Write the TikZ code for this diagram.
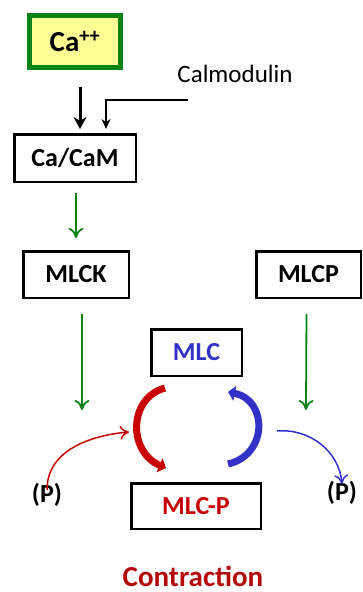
\documentclass[tikz,border=0pt]{standalone}
\usepackage{fontspec}
\setmainfont{Carlito}
\usetikzlibrary{arrows.meta}
\definecolor{darkgreen}{RGB}{10,130,20}
\definecolor{lightyellow}{RGB}{255,255,150}
\definecolor{mlcblue}{RGB}{50,50,200}
\definecolor{mlcred}{RGB}{200,0,0}
\definecolor{contred}{RGB}{180,10,10}
\tikzset{
    box/.style={draw=black, line width=2.5pt, inner sep=0pt, font=\fontsize{26}{30}\selectfont\bfseries},
    greenarrow/.style={draw=darkgreen, line width=1.8pt, -{To[length=10pt,width=15pt]}},
    thinarrow/.style={line width=1.5pt, -{Stealth[length=10pt,width=9pt]}},
    phos/.style={font=\fontsize{26}{30}\selectfont\bfseries},
}
\begin{document}
\begin{tikzpicture}[x=1pt, y=-1pt]
    \useasboundingbox (0, 0) rectangle (363, 592);
        \node [box, draw=darkgreen, line width=5pt, fill=lightyellow, minimum width=91pt, minimum height=52pt, font=\fontsize{29}{32}\selectfont\bfseries] (ca) at (75, 41.5) {Ca\textsuperscript{++}};
        \node [font=\fontsize{25}{28}\selectfont] (calm) at (235, 74) {Calmodulin};
        \node [box, minimum width=121.5pt, minimum height=47.5pt] (cacam) at (75, 158) {Ca/CaM};
        \node [box, minimum width=105.5pt, minimum height=46.5pt] (mlck) at (76, 274.5) {MLCK};
        \node [box, minimum width=104.5pt, minimum height=46.5pt] (mlcp) at (308.5, 274.5) {MLCP};
        \node [box, text=mlcblue, minimum width=90.5pt, minimum height=46.5pt] (mlc) at (196.5, 352.5) {MLC};
        \node [box, text=mlcred, minimum width=129.5pt, minimum height=45.5pt] (mlcp2) at (196, 506) {MLC-P};
        \node [phos] (pleft) at (47, 495) {(P)};
        \node [phos] (pright) at (342, 493) {(P)};
        \node [font=\fontsize{29}{32}\selectfont\bfseries, text=contred] (contr) at (193, 576) {Contraction};
        %
        \draw [line width=3pt, -{Stealth[length=12pt,width=13pt]}] ([xshift=5pt, yshift=-17pt]ca.south) -- ([xshift=5pt, yshift=4pt]cacam.north);
        \coordinate (calmstart) at (188, 100);
        \draw [thinarrow] (calmstart) -- (106, 100) -- (106, 129);
        \draw [greenarrow] ([xshift=1pt, yshift=-10pt]cacam.south) -- ([yshift=12pt]mlck.north);
        \draw [greenarrow] ([xshift=6pt, yshift=-15pt]mlck.south) -- (82, 410);
        \draw [greenarrow] ([xshift=-2pt, yshift=-15pt]mlcp.south) -- (306, 410);
        %
        \coordinate (redtop) at (165, 388);
        \coordinate (redbot) at (166, 468);
        \coordinate (bluetop) at (228, 392);
        \coordinate (bluebot) at (228, 464);
        \draw [mlcred, line width=7pt, -{Triangle[length=7pt,width=15pt]}] (redtop) .. controls (128, 398) and (128, 452) .. (redbot);
        \draw [mlcblue, line width=7pt, -{Triangle[length=7pt,width=15pt]}] (bluebot) .. controls (268, 455) and (268, 400) .. (bluetop);
        %
        \draw [thinarrow, mlcred, -{To[length=9pt,width=14pt]}] ([yshift=-10pt]pleft.north) to[out=90, in=185] (129, 432);
        \draw [thinarrow, mlcblue, -{To[length=9pt,width=14pt]}] (277, 431) to[out=5, in=95] ([yshift=-6pt]pright.north);
    \end{tikzpicture}
\end{document}
